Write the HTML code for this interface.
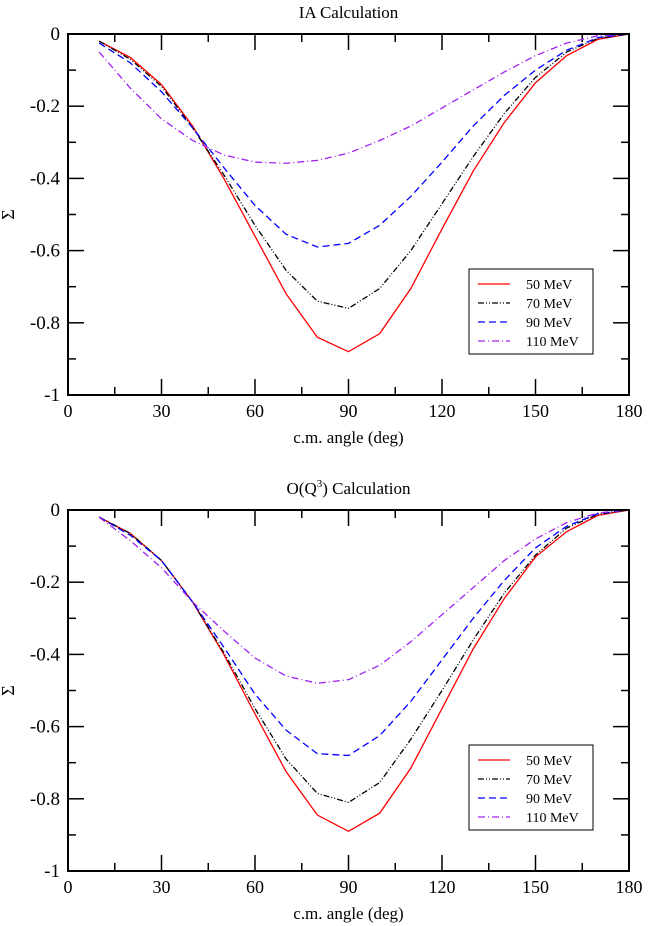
<!DOCTYPE html>
<html><head><meta charset="utf-8"><style>
body{margin:0;background:#fff}
svg{display:block;font-family:"Liberation Serif",serif}
</style></head><body>
<svg id="c" width="648" height="926" viewBox="0 0 648 926"></svg>
<script>
const angles=[10,20,30,40,50,60,70,80,90,100,110,120,130,140,150,160,170,180];
const seriesNames=["50 MeV","70 MeV","90 MeV","110 MeV"];
const xTicks=[0,30,60,90,120,150,180];
const yTicks=[0,-0.2,-0.4,-0.6,-0.8,-1];
const yTickLabels=["0","-0.2","-0.4","-0.6","-0.8","-1"];
const ia50=[-0.02,-0.065,-0.14,-0.255,-0.4,-0.56,-0.72,-0.84,-0.88,-0.83,-0.705,-0.54,-0.38,-0.245,-0.135,-0.06,-0.015,0];
const ia70=[-0.02,-0.07,-0.145,-0.26,-0.39,-0.53,-0.655,-0.74,-0.76,-0.705,-0.6,-0.47,-0.34,-0.22,-0.12,-0.05,-0.012,0];
const ia90=[-0.025,-0.08,-0.16,-0.26,-0.37,-0.475,-0.555,-0.59,-0.58,-0.53,-0.45,-0.355,-0.255,-0.17,-0.1,-0.045,-0.01,0];
const ia110=[-0.05,-0.15,-0.235,-0.295,-0.335,-0.355,-0.358,-0.35,-0.33,-0.295,-0.255,-0.205,-0.155,-0.105,-0.06,-0.025,-0.005,0];
const q50=[-0.02,-0.065,-0.14,-0.255,-0.4,-0.565,-0.725,-0.845,-0.89,-0.84,-0.715,-0.55,-0.385,-0.245,-0.13,-0.06,-0.015,0];
const q70=[-0.02,-0.065,-0.14,-0.255,-0.395,-0.55,-0.69,-0.785,-0.81,-0.755,-0.635,-0.5,-0.36,-0.23,-0.125,-0.05,-0.012,0];
const q90=[-0.02,-0.07,-0.14,-0.255,-0.38,-0.51,-0.61,-0.675,-0.68,-0.625,-0.53,-0.415,-0.3,-0.195,-0.105,-0.045,-0.01,0];
const q110=[-0.02,-0.085,-0.16,-0.255,-0.335,-0.41,-0.46,-0.48,-0.47,-0.43,-0.365,-0.29,-0.215,-0.14,-0.08,-0.035,-0.008,0];
const styles=[{c:"#ff0000",d:""},{c:"#000000",d:"6,2,1,2,1,2"},{c:"#0000ff",d:"7,4"},{c:"#a020f0",d:"7,3,1,3"}];
const NS="http://www.w3.org/2000/svg";
const svg=document.getElementById('c');
function mk(tag,attrs,parent,text){const e=document.createElementNS(NS,tag);for(const k in attrs)e.setAttribute(k,attrs[k]);if(text!==undefined)e.textContent=text;(parent||svg).appendChild(e);return e;}
function panel(top,title,sup,data,idx){
  const L=68,R=629,T=top,B=top+361;
  const g=mk('g',{});
  
  
  const xs=v=>L+(v/180)*(R-L);
  const ys=v=>T+(-v)*(B-T);
  const t=mk('text',{x:(L+R)/2,y:T-16,'text-anchor':'middle','font-size':17},g,title);
  
  
  if(sup){mk('tspan',{dy:-7,'font-size':11},t,sup);mk('tspan',{dy:7},t,") Calculation");}
  for(let v=0;v<=180;v+=15){const maj=v%30===0;const x=xs(v);
    mk('line',{x1:x,x2:x,y1:B,y2:B-(maj?16:8),stroke:'#000','stroke-width':1.5},g);
    mk('line',{x1:x,x2:x,y1:T,y2:T+(maj?16:8),stroke:'#000','stroke-width':1.5},g);}
  for(let i=0;i<=10;i++){const v=-i/10;const maj=i%2===0;const y=ys(v);
    mk('line',{x1:L,x2:L+(maj?16:8),y1:y,y2:y,stroke:'#000','stroke-width':1.5},g);
    mk('line',{x1:R,x2:R-(maj?16:8),y1:y,y2:y,stroke:'#000','stroke-width':1.5},g);}
  xTicks.forEach(v=>{const e=mk('text',{x:xs(v),y:B+22,'text-anchor':'middle','font-size':18},g,String(v));});
  yTicks.forEach((v,i)=>{const e=mk('text',{x:L-8,y:ys(v)+6,'text-anchor':'end','font-size':19},g,yTickLabels[i]);});
  const xl=mk('text',{x:(L+R)/2,y:B+48,'text-anchor':'middle','font-size':17},g,'c.m. angle (deg)');
  
  const yl=mk('text',{x:14,y:(T+B)/2,'text-anchor':'middle','font-size':18,transform:`rotate(-90 14 ${(T+B)/2})`},g,'Σ');
  
  data.forEach((arr,s)=>{const p=mk('polyline',{points:arr.map((v,i)=>xs(angles[i])+','+ys(v)).join(' '),fill:'none',stroke:styles[s].c,'stroke-width':1.3,'stroke-dasharray':styles[s].d},g);
    });
  mk('rect',{x:L,y:T,width:R-L,height:B-T,fill:'none',stroke:'#000','stroke-width':2},g);
  const lg=mk('g',{},g);
  const lx=469,ly=T+235;
  mk('rect',{x:lx,y:ly,width:124,height:85,fill:'#fff',stroke:'#000','stroke-width':1},lg);
  seriesNames.forEach((n,s)=>{const y=ly+15+s*19;
    mk('line',{x1:lx+9,x2:lx+41,y1:y,y2:y,stroke:styles[s].c,'stroke-width':1.3,'stroke-dasharray':styles[s].d},lg);
    const e=mk('text',{x:lx+57,y:y+5,'font-size':14},lg,n);});
}
panel(34,'IA Calculation',null,[ia50,ia70,ia90,ia110],1);
panel(510,'O(Q','3',[q50,q70,q90,q110],2);
</script>
</body></html>
